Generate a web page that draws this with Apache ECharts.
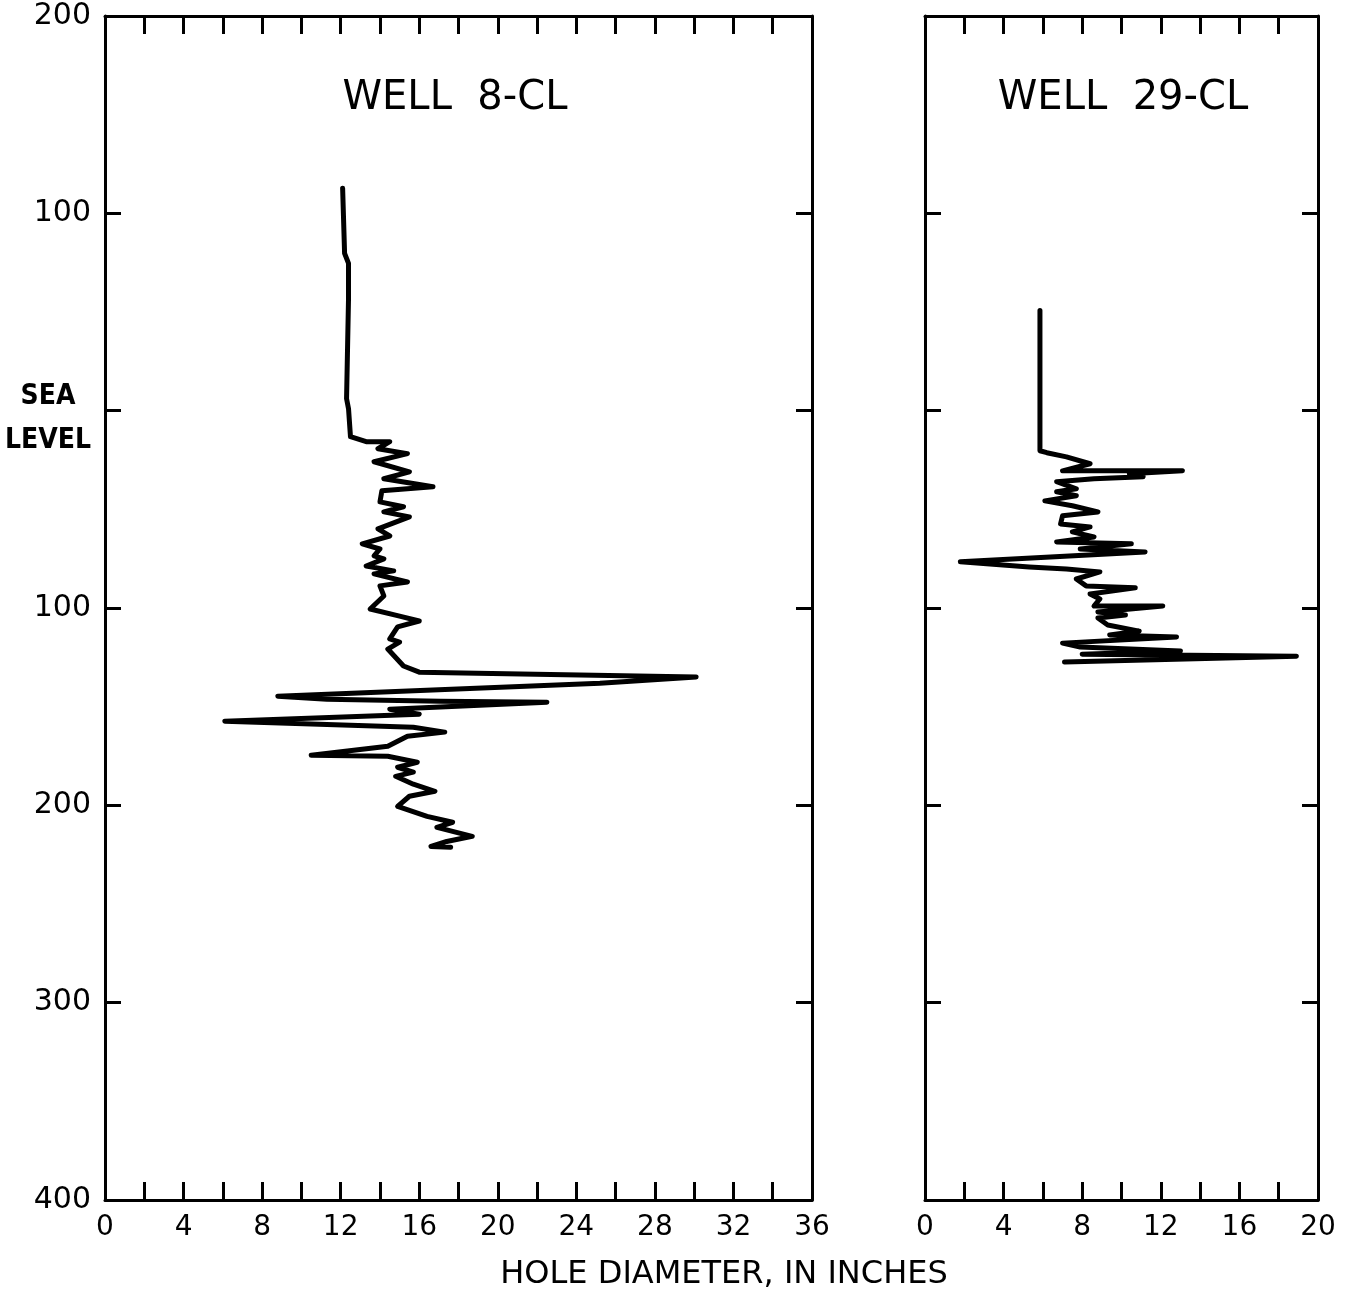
<!DOCTYPE html>
<html>
<head>
<meta charset="utf-8">
<script src="https://cdn.jsdelivr.net/npm/echarts@6/dist/echarts.min.js"></script>
<style>
html,body{margin:0;padding:0;background:#fff;}
#chart{width:1363px;height:1291px;}
</style>
</head>
<body>
<div id="chart"></div>
<script>
// Elevation in feet (positive above sea level, negative below); hole diameter in inches
const well8Diameter = [12.1,12.2,12.4,12.4,12.3,12.4,12.5,13.3,14.5,13.9,15.4,13.7,15.5,14.2,16.7,14.1,14.0,15.2,14.2,15.5,13.9,14.5,13.1,14.0,13.7,14.2,13.3,14.7,13.7,15.4,14.0,14.2,13.5,15.0,16.0,14.9,14.5,15.0,14.4,15.2,16.0,30.1,25.2,8.8,11.3,17.1,22.5,14.5,16.0,6.1,15.7,17.3,15.4,14.4,10.5,14.4,15.9,14.9,15.7,14.8,15.7,16.8,15.5,14.9,16.4,17.7,16.9,18.7,17.4,16.6,17.6];
const well8Elevation = [112.7,79.7,74.6,56.9,6.1,1.0,-13.2,-15.7,-15.7,-19.3,-21.8,-25.9,-31.0,-34.5,-38.6,-40.6,-46.2,-48.7,-51.3,-53.8,-59.9,-63.5,-67.5,-70.1,-73.6,-75.1,-78.7,-81.2,-82.7,-86.8,-88.8,-93.9,-100.5,-104.1,-106.6,-109.6,-115.7,-117.3,-120.8,-129.4,-132.5,-135.0,-138.1,-144.7,-146.2,-147.2,-147.7,-151.3,-153.8,-157.4,-160.4,-162.9,-165.0,-170.1,-174.6,-175.1,-178.2,-180.7,-183.2,-185.3,-189.3,-192.9,-195.4,-200.5,-205.6,-208.6,-211.2,-215.7,-218.3,-220.8,-221.3];

const well29Diameter = [5.85,5.85,6.2,7.2,8.4,7.0,13.1,10.4,11.1,8.6,6.7,7.7,6.7,7.7,6.1,7.5,8.8,7.0,6.9,8.4,7.5,8.6,6.7,10.5,7.9,11.2,1.8,5.3,7.2,8.9,7.7,8.2,10.7,8.4,8.9,8.6,12.1,8.8,10.2,8.8,9.3,10.9,9.4,12.8,7.0,7.9,13.0,8.0,18.9,7.1];
const well29Elevation = [50.8,-20.3,-21.3,-23.4,-26.9,-30.5,-30.5,-32.0,-33.5,-34.5,-36.0,-39.6,-41.1,-43.1,-45.7,-48.2,-51.3,-53.3,-57.4,-58.9,-61.4,-64.0,-66.5,-67.5,-70.1,-71.6,-76.6,-79.2,-80.2,-81.7,-85.3,-88.8,-89.8,-92.9,-95.4,-99.0,-99.0,-102.0,-103.6,-105.1,-108.6,-111.7,-113.7,-114.7,-117.8,-119.8,-121.8,-123.4,-124.4,-127.4];

const panelTitles = ['WELL  8-CL', 'WELL  29-CL'];
const xAxisTitle = 'HOLE DIAMETER, IN INCHES';
const seaLevelLabel = 'SEA\nLEVEL';
const well8XMax = 36, well29XMax = 20;

const FONT = 'DejaVu Sans';
const pairs = (xs, ys) => xs.map((x, i) => [x, ys[i]]);

function xAx(grid, max, pos, showLabels) {
  return {
    type: 'value', gridIndex: grid, position: pos, min: 0, max: max, interval: 2,
    axisLine: { show: true, onZero: false, lineStyle: { color: '#000', width: 3 } },
    axisTick: { show: true, inside: true, length: 18, lineStyle: { color: '#000', width: 3 } },
    axisLabel: {
      show: showLabels, color: '#000', fontFamily: FONT, fontSize: 28, margin: 14,
      formatter: v => (v % 4 === 0 ? String(v) : '')
    },
    splitLine: { show: false }
  };
}
function yAx(grid, pos, showLabels) {
  return {
    type: 'value', gridIndex: grid, position: pos, min: -400, max: 200, interval: 100,
    axisLine: { show: true, onZero: false, lineStyle: { color: '#000', width: 3 } },
    axisTick: { show: true, inside: true, length: 16, lineStyle: { color: '#000', width: 3 } },
    axisLabel: {
      show: showLabels, color: '#000', fontFamily: FONT, fontSize: 30, margin: 14,
      formatter: v => (v === 0 ? '{sl|' + seaLevelLabel.split('\n').join('}\n{sl|') + '}' : String(Math.abs(v))),
      rich: { sl: { fontFamily: 'DejaVu Sans Condensed', fontWeight: 'bold', fontSize: 28, lineHeight: 44, color: '#000', align: 'center', padding: [16, 0, 0, 0] } }
    },
    splitLine: { show: false }
  };
}

const chart = echarts.init(document.getElementById('chart'), null, { renderer: 'canvas' });
chart.setOption({
  backgroundColor: '#fff',
  animation: false,
  title: [
    { text: panelTitles[0], left: 450, top: 74, textAlign: 'center', textStyle: { fontFamily: FONT, fontWeight: 'normal', fontSize: 40, color: '#000' } },
    { text: panelTitles[1], left: 1118, top: 74, textAlign: 'center', textStyle: { fontFamily: FONT, fontWeight: 'normal', fontSize: 40, color: '#000' } },
    { text: xAxisTitle, left: 719, top: 1254, textAlign: 'center', textStyle: { fontFamily: FONT, fontWeight: 'normal', fontSize: 32, color: '#000' } }
  ],
  grid: [
    { left: 105, top: 16, width: 707, height: 1184, show: false, containLabel: false, outerBoundsMode: 'none' },
    { left: 925, top: 16, width: 393, height: 1184, show: false, containLabel: false, outerBoundsMode: 'none' }
  ],
  xAxis: [
    xAx(0, well8XMax, 'bottom', true),
    xAx(0, well8XMax, 'top', false),
    xAx(1, well29XMax, 'bottom', true),
    xAx(1, well29XMax, 'top', false)
  ],
  yAxis: [
    yAx(0, 'left', true),
    yAx(0, 'right', false),
    yAx(1, 'left', false),
    yAx(1, 'right', false)
  ],
  series: [
    { type: 'line', xAxisIndex: 0, yAxisIndex: 0, data: pairs(well8Diameter, well8Elevation), showSymbol: false, symbol: 'none', lineStyle: { color: '#000', width: 5, join: 'round', cap: 'round' } },
    { type: 'line', xAxisIndex: 2, yAxisIndex: 2, data: pairs(well29Diameter, well29Elevation), showSymbol: false, symbol: 'none', lineStyle: { color: '#000', width: 5, join: 'round', cap: 'round' } }
  ]
});
</script>
</body>
</html>
